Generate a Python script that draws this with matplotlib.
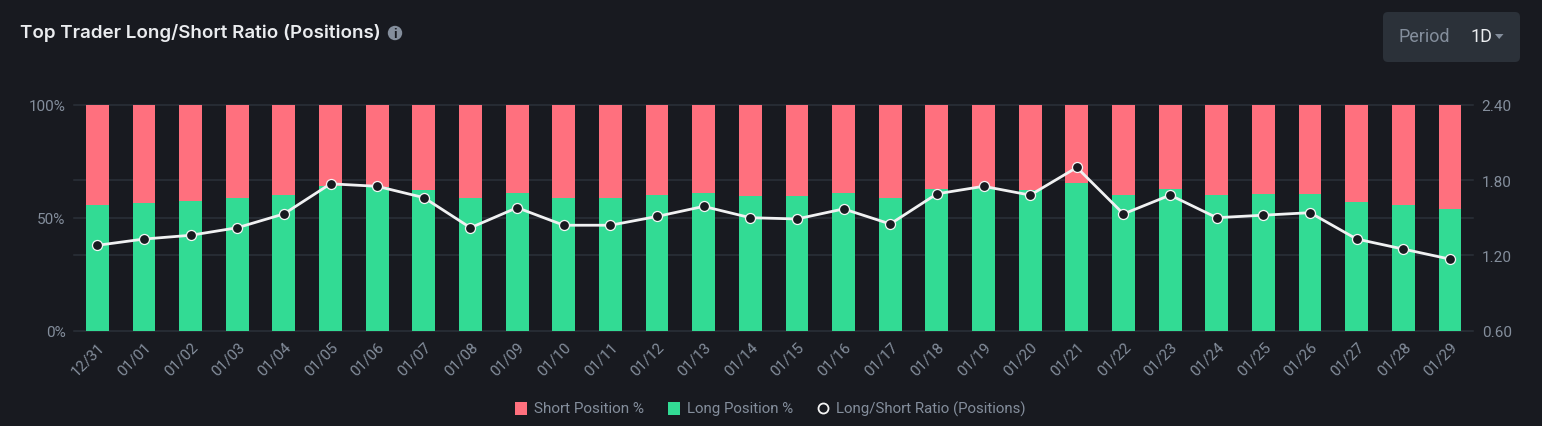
import matplotlib
matplotlib.use("Agg")
import matplotlib.pyplot as plt
from matplotlib.patches import FancyBboxPatch, Circle, Polygon, Rectangle

dates = ["12/31","01/01","01/02","01/03","01/04","01/05","01/06","01/07","01/08","01/09",
         "01/10","01/11","01/12","01/13","01/14","01/15","01/16","01/17","01/18","01/19",
         "01/20","01/21","01/22","01/23","01/24","01/25","01/26","01/27","01/28","01/29"]
long_pct = [55.8,56.6,57.5,58.6,60.2,63.9,63.6,62.1,58.6,60.9,
            58.8,58.6,59.9,60.9,59.8,59.8,60.9,58.7,62.6,63.8,
            62.2,65.5,60.2,62.5,59.9,60.3,60.4,56.8,55.4,53.9]
short_pct = [100 - v for v in long_pct]
ratio = [1.28,1.33,1.36,1.42,1.53,1.77,1.75,1.66,1.42,1.58,
         1.44,1.44,1.51,1.59,1.50,1.49,1.57,1.45,1.69,1.75,
         1.68,1.90,1.53,1.68,1.50,1.52,1.54,1.33,1.25,1.17]
left_ticks = [0, 50, 100]
left_labels = ["0%", "50%", "100%"]
right_ticks = [0.60, 1.20, 1.80, 2.40]

BG = "#181A20"; GRID = "#2B3139"; GREEN = "#32DB94"; RED = "#FF707E"; MUTED = "#848E9C"
W, H = 1542, 427
plt.rcParams['font.family'] = ['Roboto', 'DejaVu Sans']
fig = plt.figure(figsize=(W/100, H/100), dpi=100, facecolor=BG)
L, R, T, B = 74, 1473.3, 105.7, 331.7
ax = fig.add_axes([L/W, 1-B/H, (R-L)/W, (B-T)/H], facecolor=BG)
x = list(range(len(dates)))
ax.set_xlim(-0.5, 29.5); ax.set_ylim(0, 100)
for g in [0, 33.33, 50, 66.67, 100]:
    ax.axhline(g, color=GRID, lw=1.1, zorder=1, clip_on=False)
ax.bar(x, long_pct, width=0.49, color=GREEN, zorder=2)
ax.bar(x, short_pct, bottom=long_pct, width=0.49, color=RED, zorder=2)
for s in ax.spines.values():
    s.set_visible(False)
ax.set_yticks(left_ticks, left_labels)
ax.set_xticks(x, dates)
ax.tick_params(axis='y', length=0, pad=6, labelcolor=MUTED, labelsize=11)
ax.tick_params(axis='x', length=0, pad=6, labelcolor=MUTED, labelsize=11)
for t in ax.get_xticklabels():
    t.set_rotation(45); t.set_ha('right'); t.set_rotation_mode('anchor')

ax2 = ax.twinx()
ax2.set_ylim(0.6, 2.4)
ax2.set_yticks(right_ticks, [f"{v:.2f}" for v in right_ticks])
ax2.tick_params(axis='y', length=0, pad=6, labelcolor=MUTED, labelsize=11)
for s in ax2.spines.values():
    s.set_visible(False)
ax2.plot(x, ratio, color="#F0F1F2", lw=2, zorder=5, marker='o', ms=7.2,
         mfc=BG, mec="#F5F5F5", mew=0.9)

# Overlay in pixel coordinates
ov = fig.add_axes([0, 0, 1, 1], facecolor='none')
ov.set_xlim(0, W); ov.set_ylim(H, 0); ov.axis('off')
ov.text(20, 33.5, "Top Trader Long/Short Ratio (Positions)", color="#EAECEF", fontsize=13.5,
        fontweight='semibold', va='center', ha='left', family=['Inter','DejaVu Sans'])
ov.add_patch(Circle((395, 34), 7.2, color=MUTED, lw=0))
ov.text(395, 34, "i", color=BG, fontsize=9.5, fontweight='bold', ha='center', va='center')
ov.add_patch(FancyBboxPatch((1383, 13), 137, 50, boxstyle="round,pad=0,rounding_size=5",
                            fc=GRID, lw=0))
ov.text(1399, 37, "Period", color=MUTED, fontsize=13, va='center', ha='left')
ov.text(1470, 37, "1D", color="#EAECEF", fontsize=13, va='center', ha='left')
ov.add_patch(Polygon([[1495, 35], [1503.5, 35], [1499.2, 40]], fc=MUTED, lw=0))
ov.add_patch(Rectangle((515, 403), 12, 13, fc=RED, lw=0))
ov.text(534, 409.5, "Short Position %", color=MUTED, fontsize=11, va='center')
ov.add_patch(Rectangle((668, 403), 12, 13, fc=GREEN, lw=0))
ov.text(687, 409.5, "Long Position %", color=MUTED, fontsize=10.8, va='center')
ov.add_patch(Circle((823.5, 409.5), 5, fc=BG, ec="#F5F5F5", lw=1.3))
ov.text(836, 409.5, "Long/Short Ratio (Positions)", color=MUTED, fontsize=10.8, va='center')
fig.savefig("out.png", dpi=100, facecolor=BG)
